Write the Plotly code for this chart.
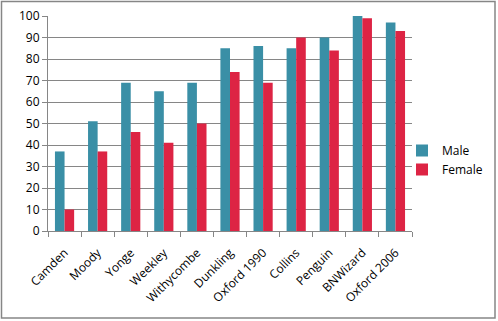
import plotly.graph_objects as go

categories = ["Camden", "Moody", "Yonge", "Weekley", "Withycombe", "Dunkling",
              "Oxford 1990", "Collins", "Penguin", "BNWizard", "Oxford 2006"]
male = [37, 51, 69, 65, 69, 85, 86, 85, 90, 100, 97]
female = [10, 37, 46, 41, 50, 74, 69, 90, 84, 99, 93]
y_ticks = [0, 10, 20, 30, 40, 50, 60, 70, 80, 90, 100]

W, H = 498, 321
L, R, T, B = 48, 86, 16, 90
pw, ph = W - L - R, H - T - B

def px(x):
    return (x - L) / pw

def py(y):
    return (H - B - y) / ph

fig = go.Figure()
fig.add_trace(go.Bar(x=categories, y=male, name="Male", marker_color="#3A8FA6",
                     marker_line_width=0))
fig.add_trace(go.Bar(x=categories, y=female, name="Female", marker_color="#DD2444",
                     marker_line_width=0))

font = dict(family="Open Sans, Lato, sans-serif", size=12, color="#000000")

fig.update_layout(
    width=W, height=H,
    margin=dict(l=L, r=R, t=T, b=B, pad=0, autoexpand=False),
    paper_bgcolor="white", plot_bgcolor="white",
    barmode="group", bargap=0.42, bargroupgap=0,
    font=font,
    showlegend=True,
    legend=dict(xref="container", yref="container",
                x=402 / W, y=1 - 136 / H, xanchor="left", yanchor="top",
                font=dict(family="Open Sans, Lato, sans-serif", size=12),
                itemwidth=30, tracegroupgap=6, bgcolor="rgba(0,0,0,0)"),
    xaxis=dict(type="category", tickangle=-45, ticks="outside", tickson="boundaries",
               ticklen=5, tickcolor="#868686", showline=True, linecolor="#868686",
               linewidth=1, showgrid=False, tickfont=font, automargin=False,
               ticklabelstandoff=9),
    yaxis=dict(range=[0, 100], tickvals=y_ticks, ticks="outside", ticklen=5,
               tickcolor="#868686", showline=True, linecolor="#868686", linewidth=1,
               showgrid=True, gridcolor="#868686", gridwidth=1, zeroline=False,
               tickfont=font, automargin=False),
    shapes=[dict(type="rect", xref="paper", yref="paper",
                 x0=px(1.5), x1=px(495), y0=py(318), y1=py(1.5),
                 line=dict(color="#868686", width=1.5), fillcolor="rgba(0,0,0,0)",
                 layer="below")],
)

fig.write_html("out.html")
